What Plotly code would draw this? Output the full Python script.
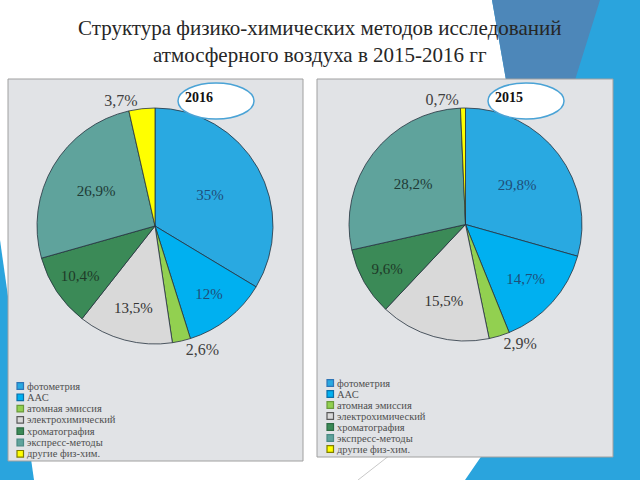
import plotly.graph_objects as go

W, H = 640, 480

# data
methods = ['фотометрия', 'ААС', 'атомная эмиссия', 'электрохимический',
           'хроматография', 'экспресс-методы', 'другие физ-хим.']
share_2016 = [35, 12, 2.6, 13.5, 10.4, 26.9, 3.7]
share_2015 = [29.8, 14.7, 2.9, 15.5, 9.6, 28.2, 0.7]
years = ['2016', '2015']

colors = ['#29a9e1', '#00b0f0', '#92d050', '#d9d9d9', '#3b8a57', '#5fa39c', '#ffff00']
swatch_border = ['#2e75b6', '#0a6fa8', '#6a9a3a', '#595959', '#2d6b44', '#4a8a84', '#7f7f00']
label_colors = ['#1f4e79', '#1f4e79', '#404040', '#333333', '#1e3a28', '#1e3a36', '#404040']
label_pos = ['inside', 'inside', 'outside', 'inside', 'inside', 'inside', 'outside']

SERIF = 'Liberation Serif, Times New Roman, serif'


def px(x):
    return x / W


def py(y):
    return 1 - y / H


def pct(v):
    return f"{v:g}".replace('.', ',') + '%'


fig = go.Figure()

# decorative slide background
shapes = [
    dict(type='path', xref='paper', yref='paper', layer='below',
         path=f"M {px(492)} {py(0)} L {px(640)} {py(0)} L {px(640)} {py(480)} "
              f"L {px(465)} {py(480)} L {px(520)} {py(400)} L {px(506)} {py(80)} Z",
         fillcolor='#2aa4dd', line=dict(width=0)),
    dict(type='path', xref='paper', yref='paper', layer='below',
         path=f"M {px(492)} {py(0)} L {px(600)} {py(0)} L {px(575)} {py(80)} L {px(506)} {py(80)} Z",
         fillcolor='#4d87b9', line=dict(width=0)),
    dict(type='path', xref='paper', yref='paper', layer='below',
         path=f"M {px(0)} {py(240)} L {px(34)} {py(480)} L {px(0)} {py(480)} Z",
         fillcolor='#2aa4dd', line=dict(width=0)),
    dict(type='line', xref='paper', yref='paper', layer='below',
         x0=px(358), y0=py(480), x1=px(390), y1=py(455),
         line=dict(color='#c8c8c8', width=1)),
]

panels = [(8, 79, 303, 461), (317, 79, 613, 457)]
for x0, y0, x1, y1 in panels:
    shapes.append(dict(type='rect', xref='paper', yref='paper', layer='below',
                       x0=px(x0), y0=py(y1), x1=px(x1), y1=py(y0),
                       fillcolor='#e1e3e6', line=dict(color='#a0a0a0', width=1)))

# pies
pie_boxes = [(37, 108, 273, 344), (349, 108, 582, 341)]
for vals, (x0, y0, x1, y1) in zip([share_2016, share_2015], pie_boxes):
    fig.add_trace(go.Pie(
        labels=methods, values=vals, sort=False, direction='clockwise', rotation=0,
        text=[pct(v) for v in vals], textinfo='text', textposition=label_pos,
        insidetextorientation='horizontal',
        insidetextfont=dict(family=SERIF, size=15, color=label_colors),
        outsidetextfont=dict(family=SERIF, size=16, color='#404040'),
        marker=dict(colors=colors, line=dict(color='#26323f', width=0.8)),
        domain=dict(x=[px(x0), px(x1)], y=[py(y1), py(y0)]),
        showlegend=False, hoverinfo='label+value',
    ))

annotations = []

# year ellipses
for yr, cx in zip(years, [216, 526]):
    shapes.append(dict(type='circle', xref='paper', yref='paper', layer='above',
                       x0=px(cx - 38), x1=px(cx + 38), y0=py(119), y1=py(83),
                       fillcolor='white', line=dict(color='#4aa3d6', width=1.5)))
    annotations.append(dict(x=px(cx - 17), y=py(97), xref='paper', yref='paper',
                            xanchor='center', yanchor='middle',
                            text=f"<b>{yr}</b>", showarrow=False,
                            font=dict(family=SERIF, size=14, color='#111')))

# legends, one per panel
for lx, ly0, step in [(17, 386, 11.3), (327, 383, 11.0)]:
    for i, name in enumerate(methods):
        yc = ly0 + i * step
        shapes.append(dict(type='rect', xref='paper', yref='paper', layer='above',
                           x0=px(lx), x1=px(lx + 6.5), y0=py(yc + 3.3), y1=py(yc - 3.3),
                           fillcolor=colors[i], line=dict(color=swatch_border[i], width=1.2)))
        annotations.append(dict(x=px(lx + 8), y=py(yc), xref='paper', yref='paper',
                                xanchor='left', yanchor='middle', text=name, showarrow=False,
                                font=dict(family=SERIF, size=10.5, color='#4f4f4f')))

# title
annotations.append(dict(x=0.5, y=py(41), xref='paper', yref='paper', showarrow=False,
                        xanchor='center', yanchor='middle',
                        text="Структура физико-химических методов исследований<br>"
                             "атмосферного воздуха в 2015-2016 гг",
                        font=dict(family=SERIF, size=21, color='#262626')))

fig.update_layout(
    width=W, height=H,
    margin=dict(l=0, r=0, t=0, b=0),
    paper_bgcolor='white', plot_bgcolor='white',
    shapes=shapes, annotations=annotations,
    showlegend=False,
)

fig.write_html("out.html", config={'displayModeBar': False},
               post_script="document.body.style.margin='0';")
